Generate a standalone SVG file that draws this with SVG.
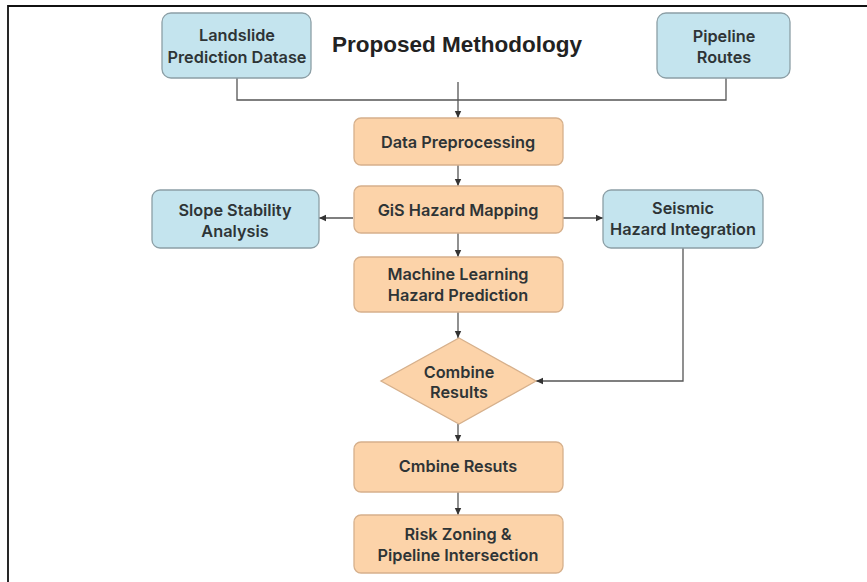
<svg xmlns="http://www.w3.org/2000/svg" width="867" height="582" viewBox="0 0 867 582">
<defs>
<marker id="ah" markerWidth="8" markerHeight="8" refX="7" refY="4" orient="auto" markerUnits="userSpaceOnUse">
<path d="M0,0.8 L7,4 L0,7.2 Z" fill="#333"/>
</marker>
</defs>
<style>
.blue{fill:#c4e4ee;stroke:#8c9fa6;stroke-width:1.3}
.orange{fill:#fcd3a9;stroke:#d6b08c;stroke-width:1.3}
.t{font-family:Inter,"Liberation Sans",sans-serif;font-weight:600;font-size:16.3px;fill:#2e3436;text-anchor:middle;dominant-baseline:central}
.title{font-family:"Liberation Sans",Arial,sans-serif;font-weight:700;font-size:22.5px;fill:#222;text-anchor:middle;dominant-baseline:central}
.c{fill:none;stroke:#555;stroke-width:1.3}
.ca{fill:none;stroke:#555;stroke-width:1.3;marker-end:url(#ah)}
</style>
<rect width="867" height="582" fill="#fff"/>
<path d="M8,582 L8,6 L867,6" fill="none" stroke="#111" stroke-width="1.8"/>
<text class="title" x="457" y="44">Proposed Methodology</text>
<g id="connectors">
<path class="c" d="M237,78 V100 H726 V78"/>
<path class="ca" d="M458,82 V118"/>
<path class="ca" d="M458,165 V186"/>
<path class="ca" d="M353,218 H319"/>
<path class="ca" d="M563,218 H603"/>
<path class="ca" d="M458,233 V257"/>
<path class="ca" d="M458,312 V338"/>
<path class="ca" d="M683,248 V381 H536"/>
<path class="ca" d="M458,424 V442"/>
<path class="ca" d="M458,492 V515"/>
</g>
<g id="landslide">
<rect class="blue" x="162" y="13" width="149" height="65" rx="9"/>
<text class="t" x="237" y="35">Landslide</text>
<text class="t" x="237" y="57">Prediction Datase</text>
</g>
<g id="pipeline">
<rect class="blue" x="657" y="13" width="133" height="65" rx="9"/>
<text class="t" x="724" y="36">Pipeline</text>
<text class="t" x="724" y="57">Routes</text>
</g>
<g id="preprocessing">
<rect class="orange" x="354" y="118" width="209" height="47" rx="7"/>
<text class="t" x="458" y="142">Data Preprocessing</text>
</g>
<g id="gis">
<rect class="orange" x="354" y="186" width="209" height="47" rx="7"/>
<text class="t" x="458" y="210">GiS Hazard Mapping</text>
</g>
<g id="slope">
<rect class="blue" x="152" y="190" width="167" height="58" rx="8"/>
<text class="t" x="235" y="210">Slope Stability</text>
<text class="t" x="235" y="231">Analysis</text>
</g>
<g id="seismic">
<rect class="blue" x="603" y="190" width="160" height="58" rx="8"/>
<text class="t" x="683" y="208">Seismic</text>
<text class="t" x="683" y="229">Hazard Integration</text>
</g>
<g id="ml">
<rect class="orange" x="354" y="257" width="209" height="55" rx="7"/>
<text class="t" x="458" y="274">Machine Learning</text>
<text class="t" x="458" y="295">Hazard Prediction</text>
</g>
<g id="combine-decision">
<polygon class="orange" points="459,338 536,381 459,424 381,381"/>
<text class="t" x="459" y="372">Combine</text>
<text class="t" x="459" y="392">Results</text>
</g>
<g id="combine-box">
<rect class="orange" x="354" y="442" width="209" height="50" rx="7"/>
<text class="t" x="458" y="466">Cmbine Resuts</text>
</g>
<g id="risk">
<rect class="orange" x="354" y="515" width="209" height="58" rx="7"/>
<text class="t" x="458" y="534">Risk Zoning &amp;</text>
<text class="t" x="458" y="555">Pipeline Intersection</text>
</g>
</svg>
